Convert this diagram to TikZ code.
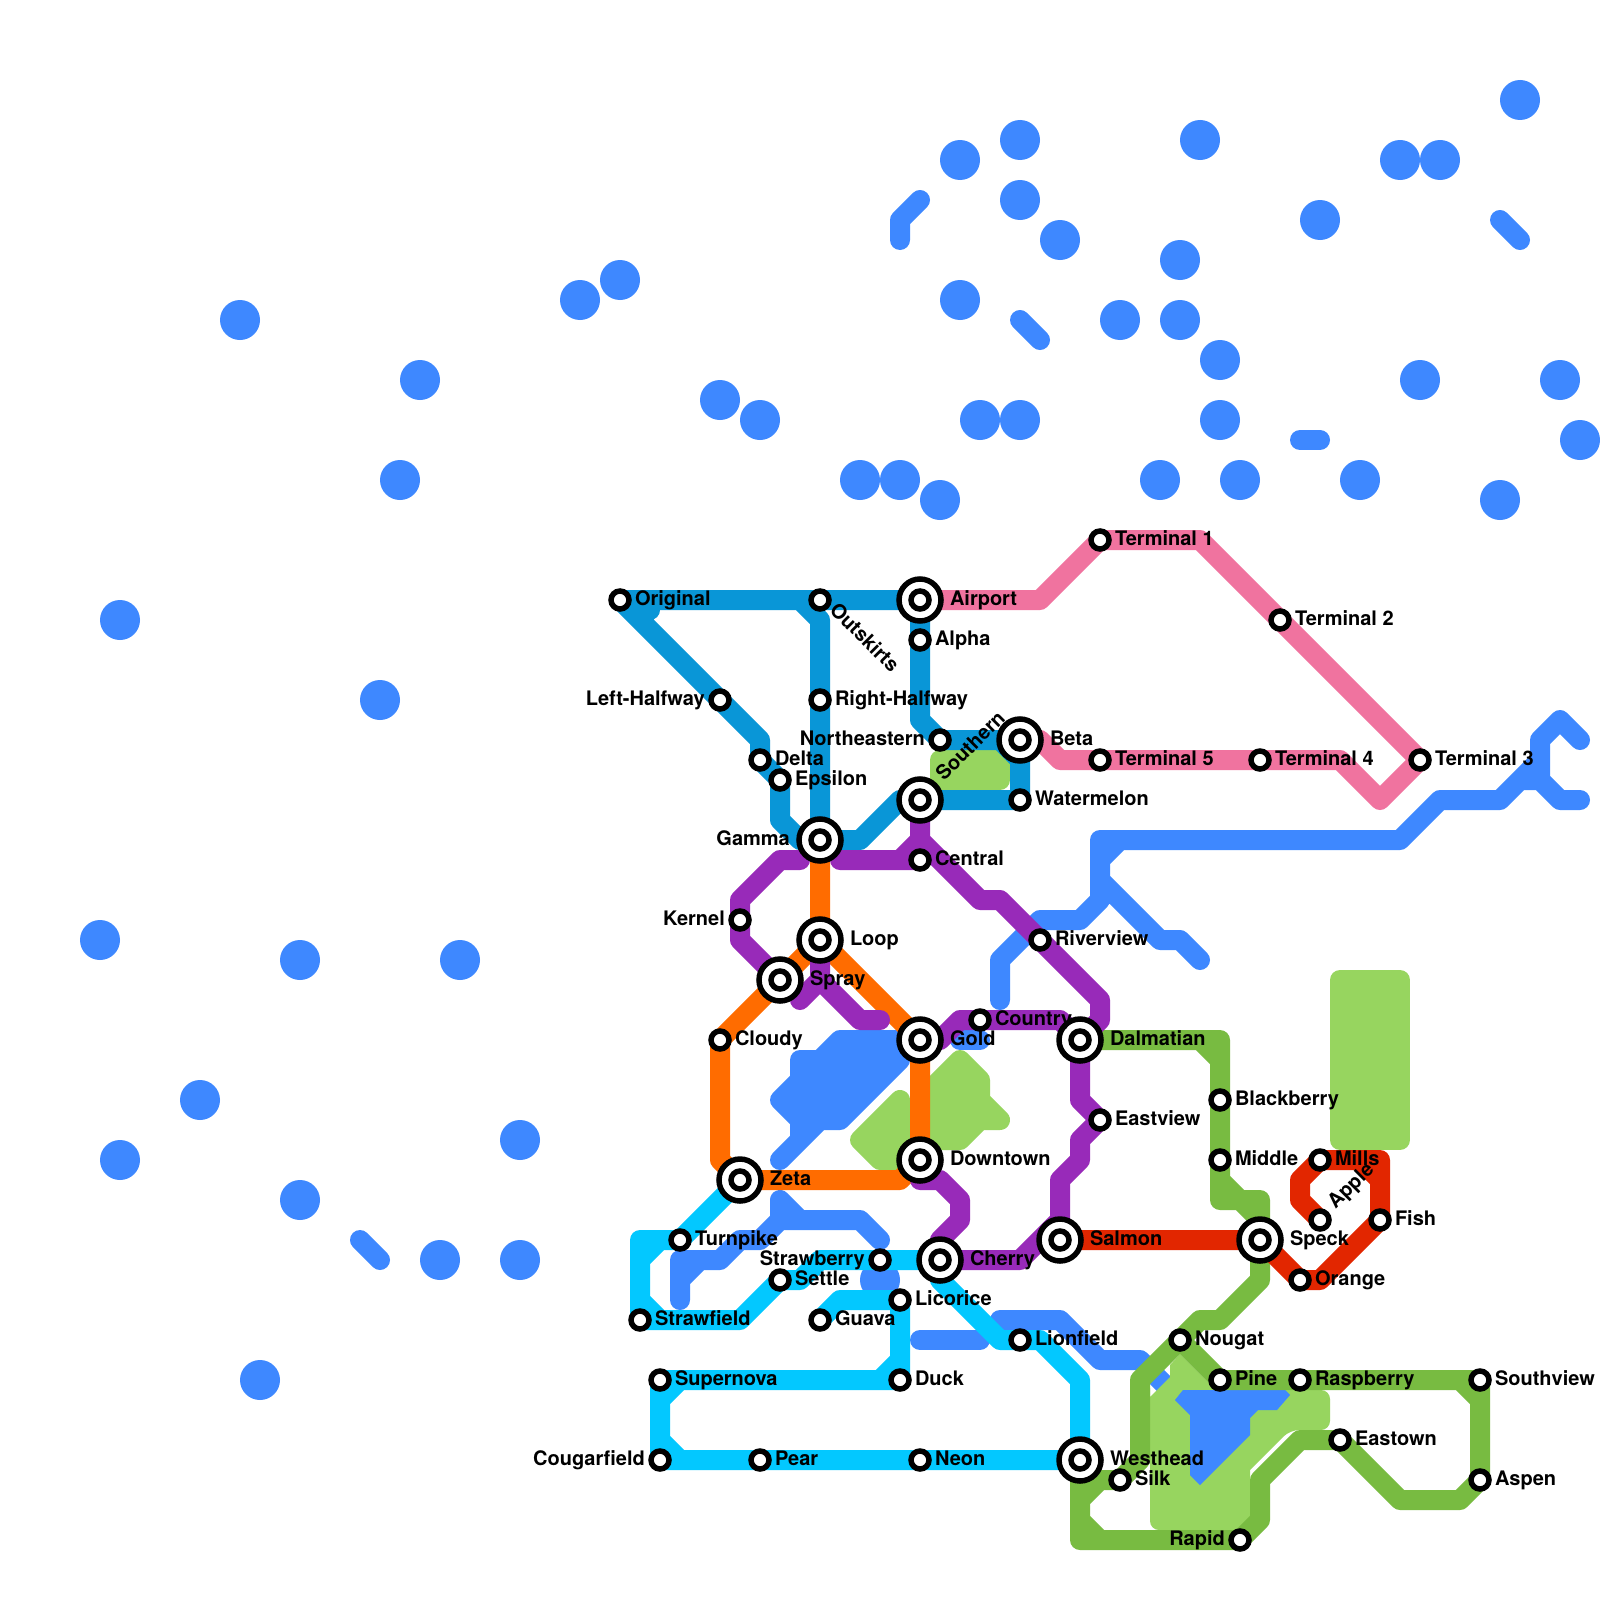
\documentclass[tikz,border=0pt]{standalone}
\usepackage{fontspec}
\setmainfont[Ligatures=NoCommon]{TeX Gyre Heros}
\definecolor{cBlue}{HTML}{3E88FF}
\definecolor{cDeep}{HTML}{0996D7}
\definecolor{cPink}{HTML}{F0739F}
\definecolor{cCyan}{HTML}{03C8FF}
\definecolor{cOrange}{HTML}{FF6C00}
\definecolor{cPurple}{HTML}{982AB9}
\definecolor{cRed}{HTML}{E22600}
\definecolor{cGreen}{HTML}{78BB41}
\definecolor{cLight}{HTML}{97D55F}
\tikzset{
  rt/.style={line width=20pt,line cap=round,line join=round},
  blob/.style={line width=20pt,line join=round,draw=#1,fill=#1},
  lake/.style={fill=cBlue,circle,inner sep=0pt,minimum size=40pt},
  stn/.style={circle,draw=black,fill=white,line width=5.5pt,inner sep=0pt,minimum size=18pt},
  hub/.style={circle,draw=black,fill=white,line width=5.5pt,inner sep=0pt,minimum size=42pt},
  labr/.style={anchor=base west,inner sep=0pt,font=\fontsize{20}{22}\selectfont\bfseries},
  labl/.style={anchor=base east,inner sep=0pt,font=\fontsize{20}{22}\selectfont\bfseries},
}
\begin{document}
\begin{tikzpicture}[x=1pt,y=-1pt]
\fill[white] (0,0) rectangle (1600,1600);
\useasboundingbox (0,0) rectangle (1600,1600);
% station places
\foreach \n/\x/\y in {Original/620/600,Outskirts/820/600,Airport/920/600,Alpha/920/640,LeftH/720/700,RightH/820/700,
 Northeastern/940/740,Beta/1020/740,Delta/760/760,Epsilon/780/780,Southern/920/800,Watermelon/1020/800,Gamma/820/840,
 Central/920/860,Kernel/740/920,Loop/820/940,Spray/780/980,Cloudy/720/1040,Gold/920/1040,Country/980/1020,
 Dalmatian/1080/1040,Riverview/1040/940,Eastview/1100/1120,Downtown/920/1160,Zeta/740/1180,Salmon/1060/1240,
 Cherry/940/1260,Turnpike/680/1240,Strawberry/880/1260,Settle/780/1280,Licorice/900/1300,Guava/820/1320,
 Strawfield/640/1320,Lionfield/1020/1340,Supernova/660/1380,Duck/900/1380,Cougarfield/660/1460,Pear/760/1460,
 Neon/920/1460,Westhead/1080/1460,Silk/1120/1480,Nougat/1180/1340,Pine/1220/1380,Raspberry/1300/1380,
 Southview/1480/1380,Eastown/1340/1440,Aspen/1480/1480,Rapid/1240/1540,Speck/1260/1240,Orange/1300/1280,
 Fish/1380/1220,Apple/1320/1220,Mills/1320/1160,Blackberry/1220/1100,Middle/1220/1160,TermA/1100/540,
 TermB/1280/620,TermC/1420/760,TermD/1260/760,TermE/1100/760}
 {\coordinate (\n) at (\x,\y);}
% water dots
\foreach \i/\x/\y in {a/1520/100,b/1020/140,c/1200/140,d/960/160,e/1400/160,f/1440/160,g/1020/200,h/1320/220,i/1060/240,
 j/1180/260,k/620/280,l/580/300,m/960/300,n/240/320,o/1120/320,p/1180/320,q/1220/360,r/420/380,s/1420/380,t/1560/380,
 u/720/400,v/760/420,w/980/420,x/1020/420,y/1220/420,z/1580/440,aa/860/480,ab/900/480,ac/400/480,ad/1160/480,ae/1240/480,
 af/1360/480,ag/940/500,ah/1500/500,ai/120/620,aj/380/700,ak/100/940,al/300/960,am/460/960,an/200/1100,ao/520/1140,
 ap/120/1160,aq/300/1200,ar/440/1260,as/520/1260,at/260/1380,au/880/1280}
 {\node[lake] (dot-\i) at (\x,\y) {};}
% blue lines and shapes
\draw[rt,cBlue] (900,240) -- (900,220) -- (920,200);
\draw[rt,cBlue] (1020,320) -- (1040,340);
\draw[rt,cBlue] (1500,220) -- (1520,240);
\draw[rt,cBlue] (1300,440) -- (1320,440);
\draw[rt,cBlue] (360,1240) -- (380,1260);
\draw[rt,cBlue] (1100,900) -- (1100,840) -- (1400,840) -- (1440,800) -- (1500,800) -- (1540,760) -- (1540,740) -- (1560,720) -- (1580,740)
  (1520,780) -- (1540,780) -- (1540,760)
  (1540,780) -- (1560,800) -- (1580,800)
  (1120,840) -- (1100,860)
  (1100,880) -- (1160,940) -- (1180,940) -- (1200,960)
  (1100,900) -- (1080,920) -- (1040,920) -- (1000,960) -- (1000,1000);
\draw[rt,cBlue] (960,1040) -- (980,1040);
\draw[blob=cBlue] (840,1040) -- (900,1040) -- (900,1060) -- (840,1120) -- (820,1120) -- (780,1160) -- (800,1140) -- (800,1120) -- (780,1100) -- (800,1080) -- (800,1060) -- (820,1060) -- cycle;
\draw[rt,cBlue] (680,1300) -- (680,1260) -- (720,1260) -- (740,1240) -- (760,1240) -- (780,1220) -- (780,1200) -- (800,1220) -- (860,1220) -- (880,1240)
  (680,1280) -- (700,1260) (780,1220) -- (800,1220);
\draw[rt,cBlue] (920,1340) -- (980,1340);
\draw[rt,cBlue] (1000,1320) -- (1060,1320) -- (1100,1360) -- (1140,1360) -- (1170,1390);
% parks
\draw[blob=cLight] (940,760) rectangle (1000,780);
\draw[blob=cLight] (1340,980) rectangle (1400,1140);
\draw[blob=cLight] (960,1060) -- (980,1080) -- (980,1100) -- (1000,1120) -- (980,1120) -- (960,1140) -- (930,1140) -- (930,1090) -- cycle;
\draw[blob=cLight] (900,1100) -- (860,1140) -- (880,1160) -- (900,1160) -- cycle;
\fill[cLight] (1150,1397) -- (1170,1377) -- (1170,1365) -- (1180,1354) -- (1216,1390) -- (1300,1390) {[rounded corners=9pt] -- (1330,1390) -- (1330,1430) -- (1290,1430)} -- (1250,1470) -- (1250,1530) {[rounded corners=9pt] -- (1150,1530) -- (1150,1397)} -- cycle;
\fill[cBlue] (1175,1400) -- (1183,1390) -- (1285,1390) -- (1290,1395) -- (1277,1410) -- (1258,1410) -- (1250,1418) -- (1250,1435) -- (1200,1485) -- (1190,1475) -- (1190,1415) -- cycle;
% routes
\draw[rt,cGreen] (1080,1040) -- (1220,1040) -- (1220,1200) -- (1260,1200) -- (1260,1280) -- (1220,1320) -- (1200,1320) -- (1140,1380) -- (1140,1460) -- (1120,1480) -- (1080,1480)
  (1200,1040) -- (1220,1060) (1220,1180) -- (1240,1200) -- (1260,1220)
  (1180,1340) -- (1220,1380) -- (1480,1380) -- (1480,1480) -- (1460,1500) -- (1400,1500) -- (1340,1440) -- (1300,1440) -- (1260,1480) -- (1260,1520) -- (1240,1540) -- (1080,1540) -- (1080,1460)
  (1460,1380) -- (1480,1400) (1100,1480) -- (1080,1500) (1080,1520) -- (1100,1540);
\draw[rt,cDeep] (Gamma) -- (800,840) -- (780,820) -- (780,780) -- (760,760) -- (760,740) -- (Original) -- (Airport) -- (920,720) -- (Northeastern) -- (Beta) -- (Watermelon) -- (Southern) -- (900,800) -- (860,840) -- (Gamma)
  (800,600) -- (820,620) -- (Gamma) (640,600) -- (650,610) (1000,740) -- (1020,760);
\draw[rt,cPink] (Airport) -- (1040,600) -- (TermA) -- (1200,540) -- (TermC) -- (1380,800) -- (1340,760) -- (TermE) -- (1060,760) -- (1040,740) -- (Beta);
\draw[rt,cCyan] (Zeta) -- (Turnpike) -- (640,1240) -- (Strawfield) -- (740,1320) -- (Settle) -- (800,1280) -- (820,1260) -- (Cherry) -- (940,1280) -- (1000,1340) -- (Lionfield) -- (1040,1340) -- (1080,1380) -- (Westhead)
  (660,1240) -- (640,1260) (640,1300) -- (660,1320);
\draw[rt,cCyan] (Guava) -- (840,1300) -- (Licorice) -- (Duck) -- (Supernova) -- (Cougarfield) -- (Westhead)
  (880,1380) -- (900,1360) (680,1380) -- (660,1400) (660,1440) -- (680,1460);
\draw[rt,cOrange] (Gamma) -- (Loop) -- (Cloudy) -- (720,1160) -- (Zeta) -- (900,1180) -- (Downtown) -- (Gold) -- (Loop);
\draw[rt,cPurple] (800,860) -- (780,860) -- (740,900) -- (740,940) -- (Spray);
\draw[rt,cPurple] (840,860) -- (Central) (900,860) -- (920,840) -- (Southern)
  (920,840) -- (980,900) -- (1000,900) -- (1100,1000) -- (1100,1020) -- (Dalmatian);
\draw[rt,cPurple] (Loop) -- (820,980) -- (800,1000) (820,980) -- (860,1020) -- (880,1020);
\draw[rt,cPurple] (Gold) -- (940,1040) -- (960,1020) -- (1060,1020) -- (Dalmatian) -- (1080,1100) -- (Eastview) -- (1080,1140) -- (1080,1160) -- (1060,1180) -- (Salmon);
\draw[rt,cPurple] (Downtown) -- (920,1180) -- (940,1180) -- (960,1200) -- (960,1220) -- (940,1240) -- (Cherry) -- (1020,1260) -- (1060,1220);
\draw[rt,cRed] (Salmon) -- (Speck) -- (Orange) -- (1320,1280) -- (Fish) -- (1380,1160) -- (Mills) -- (1300,1180) -- (1300,1200) -- (Apple)
  (1360,1160) -- (1380,1180);
% stations
\foreach \n in {Airport,Beta,Southern,Gamma,Loop,Spray,Gold,Dalmatian,Downtown,Zeta,Salmon,Cherry,Westhead,Speck}
 {\node[hub] (hub-\n) at (\n) {};}
\foreach \n in {Original,Outskirts,Airport,Alpha,LeftH,RightH,Northeastern,Beta,Delta,Epsilon,Southern,Watermelon,Gamma,
 Central,Kernel,Loop,Spray,Cloudy,Gold,Country,Dalmatian,Riverview,Eastview,Downtown,Zeta,Salmon,Cherry,Turnpike,
 Strawberry,Settle,Licorice,Guava,Strawfield,Lionfield,Supernova,Duck,Cougarfield,Pear,Neon,Westhead,Silk,Nougat,Pine,
 Raspberry,Southview,Eastown,Aspen,Rapid,Speck,Orange,Fish,Apple,Mills,Blackberry,Middle,TermA,TermB,TermC,TermD,TermE}
 {\node[stn] (st-\n) at (\n) {};}
% labels right of small stations
\foreach \n/\t in {Original/Original,Alpha/Alpha,RightH/Right-Halfway,Delta/Delta,Epsilon/Epsilon,Watermelon/Watermelon,
 Central/Central,Cloudy/Cloudy,Country/Country,Riverview/Riverview,Eastview/Eastview,Turnpike/Turnpike,Settle/Settle,
 Licorice/Licorice,Guava/Guava,Strawfield/Strawfield,Lionfield/Lionfield,Supernova/Supernova,Duck/Duck,Pear/Pear,Neon/Neon,
 Silk/Silk,Nougat/Nougat,Pine/Pine,Raspberry/Raspberry,Southview/Southview,Eastown/Eastown,Aspen/Aspen,Orange/Orange,
 Fish/Fish,Mills/Mills,Blackberry/Blackberry,Middle/Middle,TermA/Terminal 1,TermB/Terminal 2,TermC/Terminal 3,
 TermD/Terminal 4,TermE/Terminal 5}
 {\node[labr] (lab-\n) at ([shift={(14.8,5)}]\n) {\t};}
% labels right of interchanges
\foreach \n in {Airport,Beta,Loop,Spray,Gold,Dalmatian,Downtown,Zeta,Salmon,Cherry,Westhead,Speck}
 {\node[labr] (lab-\n) at ([shift={(29.8,5)}]\n) {\n};}
% labels on the left
\node[labl] (lab-LeftH) at ([shift={(-15,5)}]LeftH) {Left-Halfway};
\node[labl] (lab-Northeastern) at ([shift={(-15,5)}]Northeastern) {Northeastern};
\node[labl] (lab-Kernel) at ([shift={(-15,5)}]Kernel) {Kernel};
\node[labl] (lab-Strawberry) at ([shift={(-15,5)}]Strawberry) {Strawberry};
\node[labl] (lab-Cougarfield) at ([shift={(-15,5)}]Cougarfield) {Cougarfield};
\node[labl] (lab-Rapid) at ([shift={(-15,5)}]Rapid) {Rapid};
\node[labl] (lab-Gamma) at ([shift={(-30,5)}]Gamma) {Gamma};
% slanted labels
\node[labr,rotate=-45] (lab-Outskirts) at ([shift={(8.5,11)}]Outskirts) {Outskirts};
\node[labr,rotate=45] (lab-Southern) at ([shift={(24,-18)}]Southern) {Southern};
\node[labr,rotate=45] (lab-Apple) at ([shift={(15.5,-10)}]Apple) {Apple};
\end{tikzpicture}
\end{document}
